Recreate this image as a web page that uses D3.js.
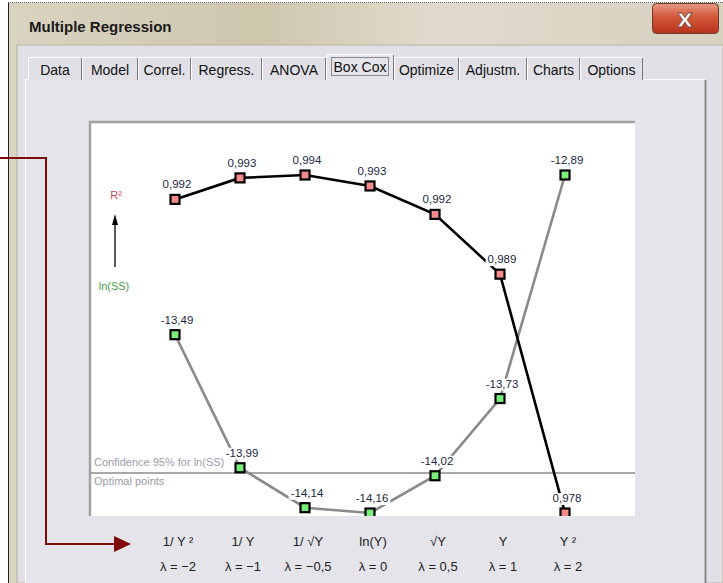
<!DOCTYPE html>
<html>
<head>
<meta charset="utf-8">
<script src="https://cdn.jsdelivr.net/npm/d3@7"></script>
<style>
  html, body { margin: 0; padding: 0; background: #ffffff; }
  svg { display: block; }
</style>
</head>
<body>
<svg id="win" width="723" height="583"></svg>
<script>
// Box-Cox transformation scan: R² and ln(SS) for each lambda
const lambdaLabels = ["λ = −2", "λ = −1", "λ = −0,5", "λ = 0", "λ = 0,5", "λ = 1", "λ = 2"];
const transformLabels = ["1/ Y ²", "1/ Y", "1/ √Y", "ln(Y)", "√Y", "Y", "Y ²"];
const rSquared = [0.99243, 0.99339, 0.99352, 0.99303, 0.99176, 0.98909, 0.97842];
const lnSS = [-13.49, -13.99, -14.14, -14.16, -14.02, -13.73, -12.89];
const confidenceLnSS = -14.01;
const tabNames = ["Data", "Model", "Correl.", "Regress.", "ANOVA", "Box Cox", "Optimize", "Adjustm.", "Charts", "Options"];
const tabEdges = [28, 82, 138, 191, 262, 326, 394, 459, 527, 580, 643];
const activeTab = "Box Cox";

const svg = d3.select("#win");
const W = 723, H = 583;
const defs = svg.append("defs");

const locale = d3.formatLocale({ decimal: ",", thousands: ".", grouping: [3], currency: ["", ""], minus: "-" });
const fmtR = locale.format(".3f");
const fmtL = locale.format(".2f");

// ---------- window chrome ----------
const tg = defs.append("linearGradient").attr("id", "titleGrad").attr("x1", 0).attr("x2", 1).attr("y1", 0).attr("y2", 0);
tg.append("stop").attr("offset", "0%").attr("stop-color", "#d9d3c2");
tg.append("stop").attr("offset", "35%").attr("stop-color", "#cfc6ae");
tg.append("stop").attr("offset", "60%").attr("stop-color", "#e0dbcd");
tg.append("stop").attr("offset", "100%").attr("stop-color", "#d6d0bf");

svg.append("rect").attr("x", 8).attr("y", 3).attr("width", W - 8).attr("height", H).attr("fill", "url(#titleGrad)");
svg.append("line").attr("x1", 8).attr("x2", W).attr("y1", 2.5).attr("y2", 2.5)
  .attr("stroke", "#555").attr("stroke-dasharray", "1,1");
svg.append("line").attr("x1", 8.5).attr("x2", 8.5).attr("y1", 3).attr("y2", H).attr("stroke", "#222");
svg.append("text").attr("x", 29).attr("y", 32)
  .attr("font-family", "'Liberation Sans', Arial, sans-serif").attr("font-weight", "bold")
  .attr("font-size", 15).attr("fill", "#1a1a1a").text("Multiple Regression");

// close button
const cg = defs.append("linearGradient").attr("id", "closeGrad").attr("x1", 0).attr("x2", 0).attr("y1", 0).attr("y2", 1);
cg.append("stop").attr("offset", "0%").attr("stop-color", "#e89a84");
cg.append("stop").attr("offset", "45%").attr("stop-color", "#d2573a");
cg.append("stop").attr("offset", "100%").attr("stop-color", "#b8321c");
svg.append("rect").attr("x", 652.5).attr("y", 3.5).attr("width", 66).attr("height", 30).attr("rx", 4)
  .attr("fill", "url(#closeGrad)").attr("stroke", "#6e3a30");
svg.append("text").attr("x", 685).attr("y", 27).attr("text-anchor", "middle")
  .attr("font-family", "'DejaVu Sans', sans-serif").attr("font-weight", "bold").attr("font-size", 20)
  .attr("fill", "#ffffff").attr("stroke", "#7a4a40").attr("stroke-width", 0.8).text("X");

// client area
svg.append("rect").attr("x", 17).attr("y", 45).attr("width", W - 17).attr("height", H - 45)
  .attr("fill", "#e0e0e6").attr("stroke", "#b8b3a2");

// ---------- tabs ----------
const tabFont = "'Liberation Sans Narrow', 'Liberation Sans', Arial, sans-serif";
svg.append("rect").attr("x", 25.5).attr("y", 79.5).attr("width", 680).attr("height", H).attr("fill", "#e4e4ea");
svg.append("path").attr("d", `M25.5,${H} V79.5 H705`).attr("fill", "none").attr("stroke", "#ffffff");
svg.append("line").attr("x1", 705.5).attr("x2", 705.5).attr("y1", 80).attr("y2", H).attr("stroke", "#8a8a8a").attr("stroke-width", 2);

tabNames.forEach((name, i) => {
  const active = name === activeTab;
  const x0 = tabEdges[i], x1 = tabEdges[i + 1];
  const top = active ? 54 : 57;
  const g = svg.append("g");
  g.append("rect").attr("x", x0).attr("y", top).attr("width", x1 - x0).attr("height", 80 - top + (active ? 1 : 0))
    .attr("fill", active ? "#e4e4ea" : "#e0e0e6");
  g.append("path").attr("d", `M${x0 + 0.5},80 V${top + 0.5} H${x1 - 1}`).attr("fill", "none").attr("stroke", "#ffffff");
  g.append("line").attr("x1", x1 - 0.5).attr("x2", x1 - 0.5).attr("y1", top + 1).attr("y2", 80)
    .attr("stroke", "#7a7a7a");
  g.append("text").attr("x", (x0 + x1) / 2).attr("y", active ? 72 : 75).attr("text-anchor", "middle")
    .attr("font-family", tabFont).attr("font-size", 14).attr("fill", "#111").text(name);
  if (active) {
    g.append("rect").attr("x", x0 + 5.5).attr("y", top + 3.5).attr("width", x1 - x0 - 11).attr("height", 18)
      .attr("fill", "none").attr("stroke", "#333").attr("stroke-dasharray", "1,1");
  }
});

// ---------- plot area ----------
const plot = { left: 89, top: 121, right: 635, bottom: 516 };
svg.append("rect").attr("x", plot.left).attr("y", plot.top)
  .attr("width", plot.right - plot.left).attr("height", plot.bottom - plot.top).attr("fill", "#ffffff");
svg.append("path").attr("d", `M${plot.left + 1},${plot.bottom} V${plot.top + 1} H${plot.right}`)
  .attr("fill", "none").attr("stroke", "#a2a2a6").attr("stroke-width", 2.5);

defs.append("clipPath").attr("id", "plotClip").append("rect")
  .attr("x", plot.left + 2).attr("y", plot.top + 2)
  .attr("width", plot.right - plot.left - 2).attr("height", plot.bottom - plot.top - 2);

const x = d3.scalePoint().domain(d3.range(lambdaLabels.length)).range([175, 565]);
const yR = d3.scaleLinear().domain(d3.extent(rSquared)).range([513, 175]);
const yL = d3.scaleLinear().domain(d3.extent(lnSS)).range([513, 175]);

const chart = svg.append("g").attr("clip-path", "url(#plotClip)");

// confidence threshold for ln(SS)
const yConf = yL(confidenceLnSS);
chart.append("line").attr("x1", plot.left).attr("x2", plot.right).attr("y1", yConf).attr("y2", yConf)
  .attr("stroke", "#8c8c8c").attr("stroke-width", 1.5);
chart.append("text").attr("x", 94).attr("y", yConf - 7)
  .attr("font-family", "'Liberation Sans', Arial, sans-serif").attr("font-size", 11)
  .attr("fill", "#9c9caa").text("Confidence 95% for ln(SS)");
chart.append("text").attr("x", 94).attr("y", yConf + 12)
  .attr("font-family", "'Liberation Sans', Arial, sans-serif").attr("font-size", 11)
  .attr("fill", "#9c9caa").text("Optimal points");

const series = [
  { values: lnSS, y: yL, line: "#8a8a8a", fill: "#7af07a", fmt: fmtL },
  { values: rSquared, y: yR, line: "#000000", fill: "#f58a8a", fmt: fmtR }
];

series.forEach(s => {
  chart.append("path").datum(s.values)
    .attr("d", d3.line().x((d, i) => x(i)).y(d => s.y(d)))
    .attr("fill", "none").attr("stroke", s.line).attr("stroke-width", 2.6);
});

// value labels with white backing
series.forEach(s => {
  s.values.forEach((v, i) => {
    const g = chart.append("g");
    const t = g.append("text").attr("x", x(i) + 2).attr("y", s.y(v) - 11).attr("text-anchor", "middle")
      .attr("font-family", "'Liberation Sans', Arial, sans-serif").attr("font-size", 11.5)
      .attr("fill", "#1b2742").text(s.fmt(v));
    const bb = t.node().getBBox();
    g.insert("rect", "text").attr("x", bb.x - 2).attr("y", bb.y + 1).attr("width", bb.width + 4)
      .attr("height", bb.height).attr("fill", "#ffffff");
  });
});

series.forEach(s => {
  chart.selectAll(null).data(s.values).join("rect")
    .attr("x", (d, i) => x(i) - 4.5).attr("y", d => s.y(d) - 4.5)
    .attr("width", 9).attr("height", 9)
    .attr("fill", s.fill).attr("stroke", "#000").attr("stroke-width", 2.2);
});

// axis key: ln(SS) up to R²
svg.append("text").attr("x", 116).attr("y", 199).attr("text-anchor", "middle")
  .attr("font-family", "'Liberation Sans', Arial, sans-serif").attr("font-size", 11)
  .attr("fill", "#d04658").text("R²");
svg.append("line").attr("x1", 115).attr("x2", 115).attr("y1", 267).attr("y2", 222)
  .attr("stroke", "#000").attr("stroke-width", 1.3);
svg.append("path").attr("d", "M115,214 L112,225 L118,225 Z").attr("fill", "#000");
svg.append("text").attr("x", 114).attr("y", 290).attr("text-anchor", "middle")
  .attr("font-family", "'Liberation Sans', Arial, sans-serif").attr("font-size", 11)
  .attr("fill", "#4c9c4c").text("ln(SS)");

// ---------- lambda captions ----------
const capFont = "'Liberation Sans Narrow', 'Liberation Sans', Arial, sans-serif";
svg.append("g").selectAll("text").data(transformLabels).join("text")
  .attr("x", (d, i) => x(i) + 3).attr("y", 546).attr("text-anchor", "middle")
  .attr("font-family", capFont).attr("font-size", 13).attr("fill", "#222").text(d => d);
svg.append("g").selectAll("text").data(lambdaLabels).join("text")
  .attr("x", (d, i) => x(i) + 3).attr("y", 571).attr("text-anchor", "middle")
  .attr("font-family", capFont).attr("font-size", 13).attr("fill", "#222").text(d => d);

// connector arrow pointing at the captions
svg.append("path").attr("d", "M0,158 H46 V544 H116").attr("fill", "none")
  .attr("stroke", "#7e0a0a").attr("stroke-width", 2);
svg.append("path").attr("d", "M131,544 L114,536 L114,552 Z").attr("fill", "#7e0a0a");
</script>
</body>
</html>
